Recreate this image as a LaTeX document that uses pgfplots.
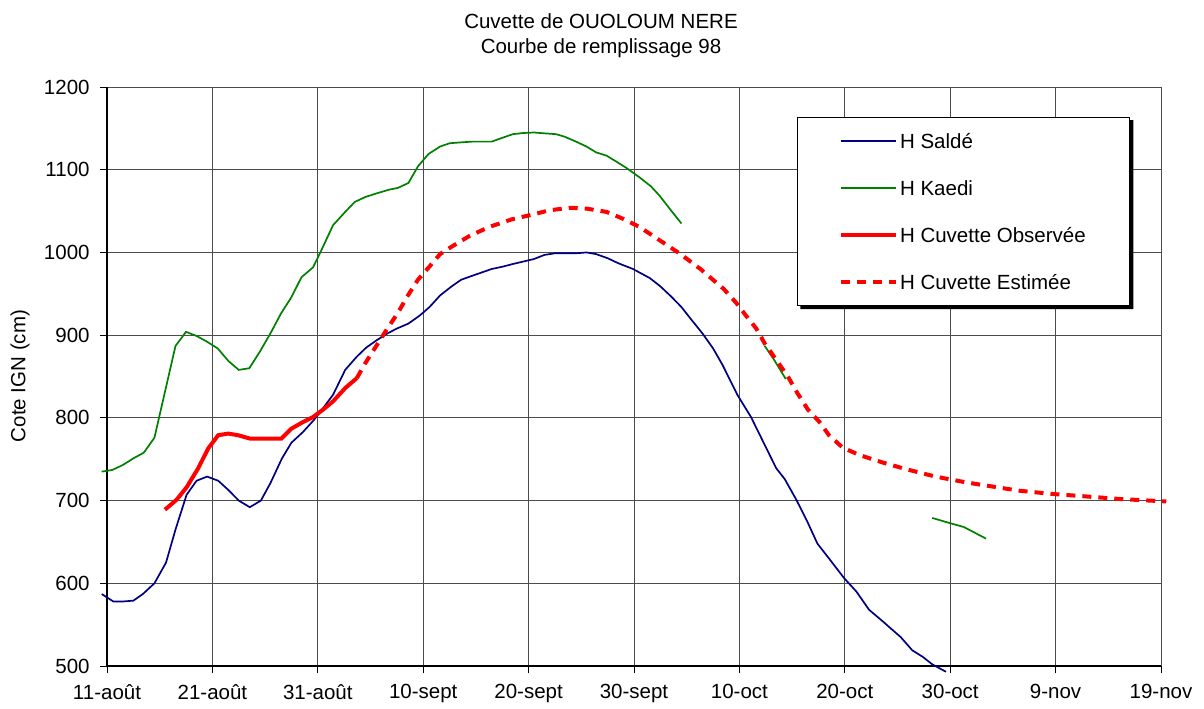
\documentclass[border=0pt]{standalone}
\usepackage{fontspec}
\setmainfont{Liberation Sans}
\usepackage{pgfplots}
\pgfplotsset{compat=1.18}
\usetikzlibrary{calc}

\definecolor{saldeblue}{RGB}{0,0,128}
\definecolor{kaedigreen}{RGB}{0,128,0}
\definecolor{cuvettered}{RGB}{255,0,0}

\begin{document}
\fontsize{10.25}{12.3}\selectfont
\begin{tikzpicture}[x=1pt,y=1pt]
\useasboundingbox (0,0) rectangle (602,354);

% titles and y label
\node[anchor=base] at (300.5,339.8) {Cuvette de OUOLOUM NERE};
\node[anchor=base] at (300.5,327.3) {Courbe de remplissage 98};
\node[rotate=90] at (10,166) {Cote IGN (cm)};

\begin{axis}[
  at={(53.5pt,21pt)}, anchor=south west,
  scale only axis, width=527pt, height=289.5pt,
  xmin=0, xmax=100, ymin=500, ymax=1200,
  clip=false,
  xtick={0,10,...,100},
  xticklabels={11-août,21-août,31-août,10-sept,20-sept,30-sept,10-oct,20-oct,30-oct,9-nov,19-nov},
  ytick={500,600,...,1200},
  /pgf/number format/assume math mode=true,
  /pgf/number format/1000 sep={},
  axis lines=left,
  axis line style={-, black, line width=0.75pt},
  grid=major,
  grid style={black!70, line width=0.5pt},
  tick align=outside,
  major tick length=3.5pt,
  tick style={black, line width=0.5pt},
  tick label style={font=\fontsize{10.25}{12.3}\selectfont},
  yticklabel style={xshift=-1.6pt},
  xticklabel style={yshift=-2pt},
  no markers,
  legend cell align=left,
  legend image code/.code={\draw[#1] (0pt,0pt) -- (27.5pt,0pt);},
  legend style={
    name=keybox,
    at={(0.6546,0.9487)}, anchor=north west,
    draw=black, line width=0.6pt, fill=white,
    inner xsep=20.75pt, inner ysep=8pt,
    row sep=15.85pt,
    nodes={inner xsep=1pt, inner ysep=0pt, text height=7.6pt, text depth=0pt},
    font=\fontsize{10.25}{12.3}\selectfont,
  },
]

% H Saldé
\addplot[saldeblue, line width=0.85pt] coordinates {
(-0.5,587)(0.6,578)(1.5,578)(2.5,579)(3.4,587)(4.5,600)(5.6,625)(6.5,665)
(7.55,707)(8.5,724)(9.5,729)(10.55,724)(11.5,713)(12.5,700)(13.55,692)
(14.6,700)(15.5,721)(16.6,751)(17.5,770)(18.6,783)(19.6,797)(20.4,810)
(21.45,828)(22.6,858)(23.7,874)(24.6,885)(25.6,894)(26.6,902)(27.5,908)
(28.6,914)(29.7,924)(30.6,934)(31.6,948)(32.7,959)(33.6,967)(34.7,972)
(35.6,976)(36.5,980)(37.6,983)(38.5,986)(39.5,989)(40.5,992)(41.5,997)
(42.5,999)(43.5,999)(44.5,999)(45.5,1000)(46.4,998)(47.5,993)(48.5,987)
(49.9,980)(51.5,969)(52.5,959)(53.5,947)(54.5,934)(55.3,921)(56.5,902)
(57.5,884)(58.4,864)(59.8,828)(61.1,801)(62.8,757)(63.5,739)(64.3,726)
(65.4,701)(66.5,673)(67.4,648)(68.5,630)(69.95,606)(71.1,590)(72.3,568)
(73.6,554)(74.4,545)(75.3,535)(76.4,519)(77.4,511)(78.3,502)(79.6,493)
};
\addlegendentry{H Saldé}

% H Kaedi (three recorded stretches)
\addplot[kaedigreen, line width=0.85pt] coordinates {
(-0.5,735)(0.5,737)(1.5,743)(2.5,751)(3.5,758)(4.5,776)(6.5,887)(7.5,904)
(8.5,899)(9.5,892)(10.5,884)(11.5,869)(12.5,858)(13.5,860)(14.5,880)
(15.5,902)(16.5,926)(17.5,946)(18.45,970)(19.55,982)(20.35,1003)(21.45,1033)
(22.6,1049)(23.5,1061)(24.5,1067)(25.6,1071.5)(26.8,1076)(27.6,1078)(28.6,1084)
(29.5,1104)(30.5,1119)(31.6,1128)(32.5,1132)(33.5,1133)(34.7,1134)(36.5,1134)
(37.6,1139)(38.5,1143)(39.5,1144.4)(40.5,1145)(41.5,1144)(42.6,1143)(43.4,1140)
(44.5,1134)(45.5,1128)(46.4,1121)(47.4,1117)(48.3,1110)(49.3,1102)(50.5,1091)
(51.6,1080)(52.4,1069)(53.5,1051)(54.5,1035)

(62.4,887)(63.3,870)(64.4,847)

(78.3,679)(79.9,673)(81.3,668)(83.4,654)
};
\addlegendentry{H Kaedi}

% H Cuvette observed
\addplot[cuvettered, line width=2pt] coordinates {
(5.5,689)(6.6,701)(7.55,716)(8.65,739)(9.6,763)(10.55,779)(11.5,781)
(12.45,779)(13.55,775)(16.55,775)(17.5,787)(18.6,795)(19.55,801)(20.5,810)
(21.45,820)(22.6,836)(23.7,848)
};
\addlegendentry{H Cuvette Observée}

% H Cuvette estimated
\addplot[cuvettered, line width=2pt, dash pattern=on 4.5pt off 3.5pt] coordinates {
(23.7,848)(24.5,866)(25.6,888)(26.5,906)(27.6,927)(28.5,947)(29.5,967)
(30.6,983)(31.6,998)(32.7,1007)(34.4,1020)(36.3,1031)(38.4,1040)(40.1,1045)
(42,1051)(43.9,1054)(45.5,1053)(47.4,1049)(48.9,1041)(50.5,1031)(52.4,1015)
(54.3,999)(56.3,980)(58.5,956)(59.7,939)(60.6,924)(61.6,908)(62.4,890)
(63.5,870)(64.6,850)(65.5,830)(66.5,810)(67.6,795)(68.5,779)(69.8,764)
(71.4,755)(73.6,746)(75.8,738)(78.6,729)(81.5,722)(84,717)(86.5,712)
(89.7,708)(92.9,705)(96,702)(98.9,700)(100.5,699)
};
\addlegendentry{H Cuvette Estimée}

\end{axis}

% shadow strips along the bottom and right of the legend box
\fill[black]
  ($(keybox.south west)+(1.7pt,-1.7pt)$) rectangle (keybox.south east)
  ($(keybox.north east)+(0pt,-1.7pt)$) rectangle ($(keybox.south east)+(1.7pt,-1.7pt)$);
\end{tikzpicture}
\end{document}
